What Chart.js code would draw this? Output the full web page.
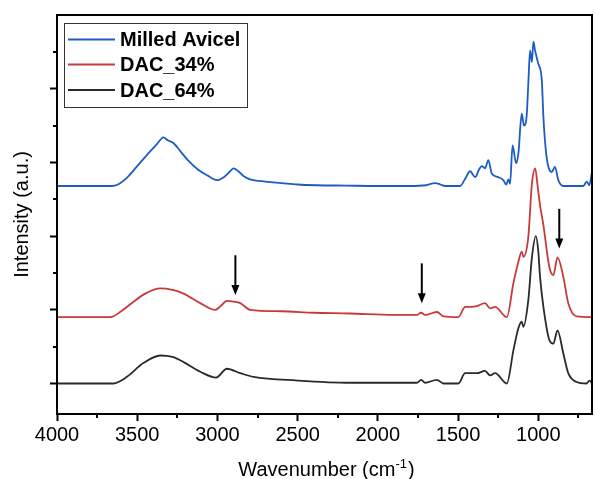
<!DOCTYPE html>
<html><head><meta charset="utf-8">
<script src="https://cdn.jsdelivr.net/npm/chart.js@4"></script>
<style>html,body{margin:0;padding:0;background:#fff}</style>
</head><body>
<canvas id="c" width="595" height="479"></canvas>
<script>
// ---- data ----
const seriesLabels = ['Milled Avicel', 'DAC_34%', 'DAC_64%'];
const seriesColors = ['#1d5cc0', '#c83a3a', '#2a2a2a'];

const avicelWn  = [4000,3800,3660,3620,3560,3500,3440,3380,3336,3310,3273,3230,3180,3120,3060,3003,2960,2920,2900,2870,2840,2796,2700,2600,2500,2384,2200,2000,1800,1700,1643,1610,1581,1487,1460,1425,1393,1370,1352,1332,1311,1290,1250,1218,1200,1186,1176,1160,1138,1124,1103,1089,1072,1062,1051,1040,1030,1020,1000,978,968,953,937,916,896,875,844,800,719,698,682,665];
const avicelInt = [2.68,2.68,2.68,2.70,2.80,2.95,3.10,3.24,3.34,3.30,3.26,3.15,3.02,2.90,2.82,2.76,2.80,2.88,2.92,2.88,2.82,2.77,2.74,2.72,2.70,2.69,2.685,2.68,2.68,2.69,2.72,2.70,2.68,2.68,2.76,2.88,2.80,2.90,2.95,2.92,3.03,2.85,2.80,2.76,2.70,2.77,2.71,3.23,2.99,3.12,3.66,3.50,3.64,4.07,4.52,4.36,4.64,4.52,4.34,4.12,3.62,3.17,2.94,2.87,2.94,2.76,2.68,2.68,2.68,2.74,2.69,2.87];

const dac34Wn  = [4000,3800,3668,3600,3523,3450,3356,3280,3211,3107,3014,2980,2941,2900,2858,2796,2600,2400,2173,1900,1757,1730,1705,1632,1591,1498,1456,1420,1383,1332,1300,1269,1196,1155,1124,1103,1093,1062,1040,1019,1005,989,968,931,906,880,844,813,760,665];
const dac34Int = [0.90,0.90,0.90,0.98,1.11,1.22,1.29,1.27,1.22,1.09,1.00,1.05,1.12,1.11,1.09,1.00,0.98,0.96,0.95,0.93,0.93,0.96,0.93,0.97,0.91,0.90,1.04,1.04,1.05,1.09,1.02,1.04,0.90,1.36,1.65,1.79,1.72,1.99,2.70,2.92,2.70,2.42,2.15,1.58,1.47,1.71,1.45,1.09,0.91,0.90];

const dac64Wn  = [4000,3800,3649,3564,3460,3356,3280,3211,3107,3008,2941,2858,2775,2500,2173,1757,1730,1705,1632,1591,1498,1456,1383,1332,1300,1269,1196,1155,1124,1103,1093,1062,1040,1015,1000,989,968,931,906,880,844,813,760,700,680,665];
const dac64Int = [0,0,0,0.09,0.28,0.38,0.36,0.29,0.16,0.08,0.20,0.14,0.09,0.04,0.01,0.01,0.05,0.01,0.05,0,0,0.14,0.14,0.17,0.11,0.14,0,0.45,0.75,0.84,0.77,1.13,1.70,2.00,1.80,1.45,1.04,0.59,0.54,0.72,0.41,0.14,0.02,0,0.04,0];

const xTickValues  = [4000,3500,3000,2500,2000,1500,1000];
const xMinorValues = [3750,3250,2750,2250,1750,1250,750];
const yTickValues  = [0,1,2,3,4];
const yMinorValues = [0.5,1.5,2.5,3.5,4.5];

const arrowWn   = [2888, 1726, 869];
const arrowFrom = [1.74, 1.63, 2.37];
const arrowTo   = [1.20, 1.09, 1.83];

const xTitle = 'Wavenumber (cm';
const xTitleSup = '-1';
const yTitle = 'Intensity (a.u.)';

// ---- build chart ----
const FONT = "'Liberation Sans', Arial, sans-serif";
function pts(wn, v){ return wn.map((x,i)=>({x:x, y:v[i]})); }
const datasets = [
  {label: seriesLabels[0], data: pts(avicelWn, avicelInt)},
  {label: seriesLabels[1], data: pts(dac34Wn, dac34Int)},
  {label: seriesLabels[2], data: pts(dac64Wn, dac64Int)}
].map((d,i)=>Object.assign(d,{borderColor:seriesColors[i], backgroundColor:seriesColors[i], borderWidth:1.8, pointRadius:0, fill:false, cubicInterpolationMode:'monotone'}));

const extras = {
  id: 'extras',
  afterDraw(chart){
    const ctx = chart.ctx, ca = chart.chartArea, xs = chart.scales.x, ys = chart.scales.y;
    ctx.save();
    // frame
    ctx.strokeStyle = '#000'; ctx.lineWidth = 2;
    ctx.strokeRect(ca.left, ca.top, ca.right - ca.left, ca.bottom - ca.top);
    // minor ticks
    ctx.lineWidth = 2;
    ctx.beginPath();
    xMinorValues.forEach(v=>{ const px = Math.round(xs.getPixelForValue(v)); ctx.moveTo(px, ca.bottom); ctx.lineTo(px, ca.bottom + 4); });
    yMinorValues.forEach(v=>{ const py = Math.round(ys.getPixelForValue(v)); ctx.moveTo(ca.left, py); ctx.lineTo(ca.left - 4, py); });
    ctx.stroke();
    // arrows
    ctx.fillStyle = '#000'; ctx.strokeStyle = '#000';
    arrowWn.forEach((w,i)=>{
      const px = xs.getPixelForValue(w), y1 = ys.getPixelForValue(arrowFrom[i]), y2 = ys.getPixelForValue(arrowTo[i]);
      ctx.lineWidth = 2;
      ctx.beginPath(); ctx.moveTo(px, y1); ctx.lineTo(px, y2 - 8); ctx.stroke();
      ctx.beginPath(); ctx.moveTo(px - 4, y2 - 10); ctx.lineTo(px + 4, y2 - 10); ctx.lineTo(px, y2); ctx.closePath(); ctx.fill();
    });
    // legend
    const lx = 64, ly = 23, lw = 183, lh = 84;
    ctx.lineWidth = 1; ctx.strokeStyle = '#333';
    ctx.strokeRect(lx + 0.5, ly + 0.5, lw, lh);
    ctx.font = 'bold 20px ' + FONT; ctx.textBaseline = 'middle'; ctx.textAlign = 'left';
    const rows = [39.5, 64.5, 90];
    chart.data.datasets.forEach((ds,i)=>{
      ctx.strokeStyle = ds.borderColor; ctx.lineWidth = 2;
      ctx.beginPath(); ctx.moveTo(68, rows[i]); ctx.lineTo(115, rows[i]); ctx.stroke();
      ctx.fillStyle = '#000'; ctx.fillText(ds.label, 120, rows[i] + 1);
    });
    // x title with superscript
    ctx.font = '20px ' + FONT; ctx.textBaseline = 'alphabetic';
    const supFont = '13px ' + FONT;
    const w1 = ctx.measureText(xTitle).width;
    ctx.font = supFont; const w2 = ctx.measureText(xTitleSup).width;
    ctx.font = '20px ' + FONT; const w3 = ctx.measureText(')').width;
    const total = w1 + w2 + w3 + 1;
    let tx = (ca.left + ca.right) / 2 - total / 2 + 2;
    const by = 476;
    ctx.fillText(xTitle, tx, by); tx += w1;
    ctx.font = supFont; ctx.fillText(xTitleSup, tx, by - 8); tx += w2 + 1;
    ctx.font = '20px ' + FONT; ctx.fillText(')', tx, by);
    ctx.restore();
  }
};

new Chart(document.getElementById('c'), {
  type: 'line',
  data: {datasets},
  options: {
    responsive: false, animation: false, devicePixelRatio: 1,
    layout: {padding: {left: 0, top: 15, right: 3, bottom: 0}},
    plugins: {legend: {display: false}, tooltip: {enabled: false}},
    scales: {
      x: {
        type: 'linear', reverse: true, min: 665, max: 4000,
        afterBuildTicks: s => { s.ticks = xTickValues.map(v=>({value:v})); },
        afterFit: s => { s.height = 65; },
        grid: {display: true, drawOnChartArea: false, drawTicks: true, tickLength: 7, tickWidth: 2, tickColor: '#000'},
        border: {display: true, color: '#000', width: 2},
        ticks: {color: '#000', font: {family: FONT, size: 20}, padding: 2, maxRotation: 0, autoSkip: false, callback: v => String(v)},
        title: {display: false}
      },
      y: {
        type: 'linear', min: -0.414, max: 5,
        afterBuildTicks: s => { s.ticks = yTickValues.map(v=>({value:v})); },
        afterFit: s => { s.width = 57; },
        grid: {display: true, drawOnChartArea: false, drawTicks: true, tickLength: 7, tickWidth: 2, tickColor: '#000'},
        border: {display: true, color: '#000', width: 2},
        ticks: {display: false},
        title: {display: true, text: yTitle, color: '#000', font: {family: FONT, size: 20}, padding: {top: 10, bottom: 0}}
      }
    }
  },
  plugins: [extras]
});
</script>
</body></html>
